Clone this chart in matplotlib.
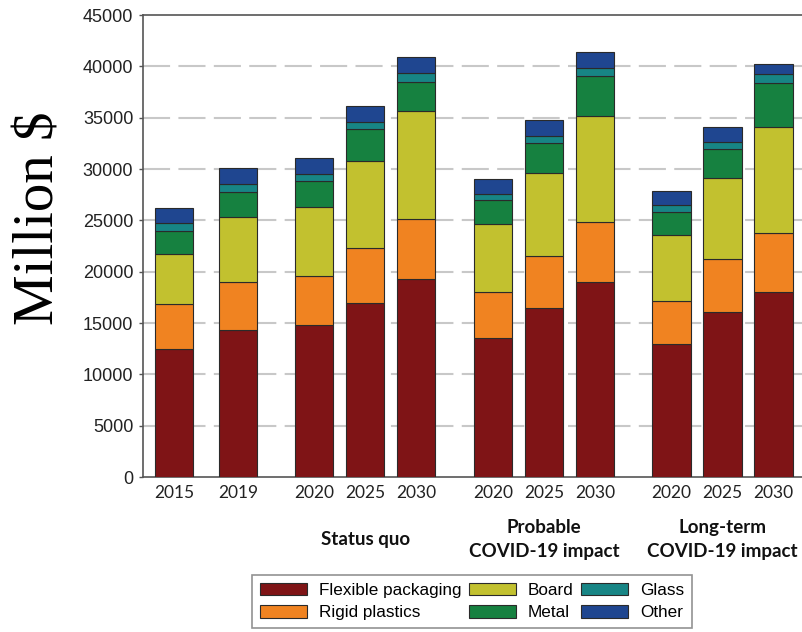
import matplotlib
matplotlib.use("Agg")
import matplotlib.pyplot as plt
import numpy as np

# ---- data ----
bar_labels = ["2015", "2019", "2020", "2025", "2030", "2020", "2025", "2030", "2020", "2025", "2030"]
group_labels = ["Status quo", "Probable\nCOVID-19 impact", "Long-term\nCOVID-19 impact"]
series_names = ["Flexible packaging", "Rigid plastics", "Board", "Metal", "Glass", "Other"]

flexible = [12460, 14310, 14800, 16910, 19280, 13560, 16420, 18990, 12950, 16040, 18010]
rigid    = [4350, 4710, 4800, 5420, 5840, 4480, 5130, 5810, 4220, 5160, 5780]
board    = [4900, 6330, 6720, 8470, 10550, 6560, 8020, 10350, 6420, 7880, 10260]
metal    = [2270, 2430, 2500, 3050, 2820, 2340, 2950, 3900, 2240, 2830, 4280]
glass    = [720, 750, 650, 750, 820, 620, 710, 810, 660, 680, 910]
other    = [1460, 1530, 1620, 1520, 1620, 1460, 1530, 1520, 1360, 1460, 970]

colors = ["#7f1416", "#f08321", "#c2c12f", "#168140", "#178585", "#1f4690"]

# ---- layout ----
pos = np.array([0, 1.25, 2.75, 3.75, 4.75, 6.25, 7.25, 8.25, 9.75, 10.75, 11.75])
group_centers = [pos[3], pos[6], pos[9]]

W, H = 802, 632
fig = plt.figure(figsize=(W / 100, H / 100), dpi=100)
ax = fig.add_axes([143 / W, (H - 477) / H, (802 - 143) / W, (477 - 15) / H])

series = [flexible, rigid, board, metal, glass, other]
bottom = np.zeros(len(pos))
for vals, c, name in zip(series, colors, series_names):
    ax.bar(pos, vals, width=0.75, bottom=bottom, color=c, edgecolor="#2a2a2a",
           linewidth=0.8, label=name, zorder=3)
    bottom += np.array(vals)

ax.set_xlim(-0.608, 12.31)
ax.set_ylim(0, 45000)
ax.set_yticks(np.arange(0, 45001, 5000))
ax.set_xticks(pos)
ax.set_xticklabels(bar_labels, fontfamily="Lato", fontsize=12.5, color="#222222")
for lbl in ax.get_yticklabels():
    lbl.set_fontfamily("Liberation Sans")
    lbl.set_fontsize(13)
    lbl.set_color("#222222")

ax.tick_params(axis="y", length=3, width=1, color="#555555", pad=4)
ax.tick_params(axis="x", length=0, pad=6)

for y in np.arange(5000, 40001, 5000):
    ax.axhline(y, color="#c8c8c8", linewidth=1.5, linestyle=(0, (13, 4)), zorder=1)

for s in ["left", "bottom", "top"]:
    ax.spines[s].set_color("#555555")
    ax.spines[s].set_linewidth(1.2)
ax.spines["right"].set_visible(False)

ax.set_ylabel("Million $", fontfamily="Liberation Serif", fontsize=41)
ax.yaxis.set_label_coords(-0.118, 0.561)

for gx, gl in zip(group_centers, group_labels):
    ax.text(gx, -0.135, gl, transform=ax.get_xaxis_transform(), ha="center", va="center",
            fontfamily="Lato", fontweight="bold", fontsize=13.5, linespacing=1.45,
            color="#111111")

leg = fig.legend(loc="upper left", bbox_to_anchor=(252 / W, 1 - 575 / H), ncol=3,
                 prop={"family": "Liberation Sans", "size": 12.3},
                 frameon=True, fancybox=False, edgecolor="#777777",
                 handlelength=2.75, handleheight=0.75, handletextpad=0.7,
                 columnspacing=0.45, labelspacing=0.42, borderpad=0.45, borderaxespad=0)
leg.get_frame().set_linewidth(1.2)

fig.savefig("out.png", dpi=100)
